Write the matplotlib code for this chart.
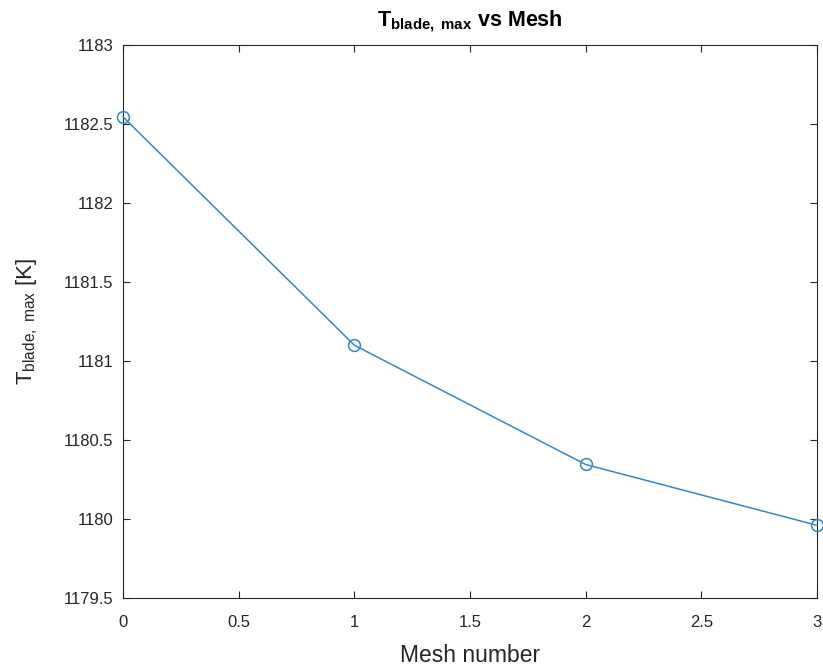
import matplotlib
matplotlib.use("Agg")
from matplotlib import pyplot as plt

# data
mesh_number = [0, 1, 2, 3]
t_blade_max = [1182.545, 1181.10, 1180.345, 1179.96]
x_ticks = [0, 0.5, 1, 1.5, 2, 2.5, 3]
y_ticks = [1179.5, 1180, 1180.5, 1181, 1181.5, 1182, 1182.5, 1183]

plt.rcParams['font.family'] = ['Liberation Sans', 'DejaVu Sans']
plt.rcParams['mathtext.fontset'] = 'custom'
plt.rcParams['mathtext.rm'] = 'Liberation Sans'
plt.rcParams['mathtext.it'] = 'Liberation Sans'
plt.rcParams['mathtext.bf'] = 'Liberation Sans:bold'

dark = '#262626'
line_col = '#2f88cf'
fig = plt.figure(figsize=(8.23, 6.68), dpi=100)
ax = fig.add_axes([0.1495, 0.1048, 0.8432, 0.8278])

ax.plot(mesh_number, t_blade_max, color=line_col, lw=1.1,
        marker='o', markersize=8.5, markerfacecolor='none',
        markeredgecolor=line_col, markeredgewidth=1.1, clip_on=False, zorder=3)

ax.set_xlim(0, 3)
ax.set_ylim(1179.5, 1183)
ax.set_xticks(x_ticks)
ax.set_xticklabels([f'{v:g}' for v in x_ticks])
ax.set_yticks(y_ticks)
ax.set_yticklabels([f'{v:g}' for v in y_ticks])

ax.tick_params(direction='in', length=5, width=0.8, colors=dark,
               labelsize=12, top=True, right=True)
ax.tick_params(axis='x', pad=12)
ax.tick_params(axis='y', pad=7)
for s in ax.spines.values():
    s.set_color(dark)
    s.set_linewidth(0.8)

ax.set_xlabel('Mesh number', fontsize=16.5, color=dark, labelpad=10)
ax.set_ylabel(r'$\mathrm{T_{blade,\ max}}$ [K]', fontsize=16, color=dark, labelpad=17)
ax.set_title(r'$\mathbf{T_{blade,\ max}}$ vs Mesh', fontsize=15.5,
             fontweight='bold', color='black', pad=14)

fig.savefig('out.png', dpi=100, facecolor='white')
